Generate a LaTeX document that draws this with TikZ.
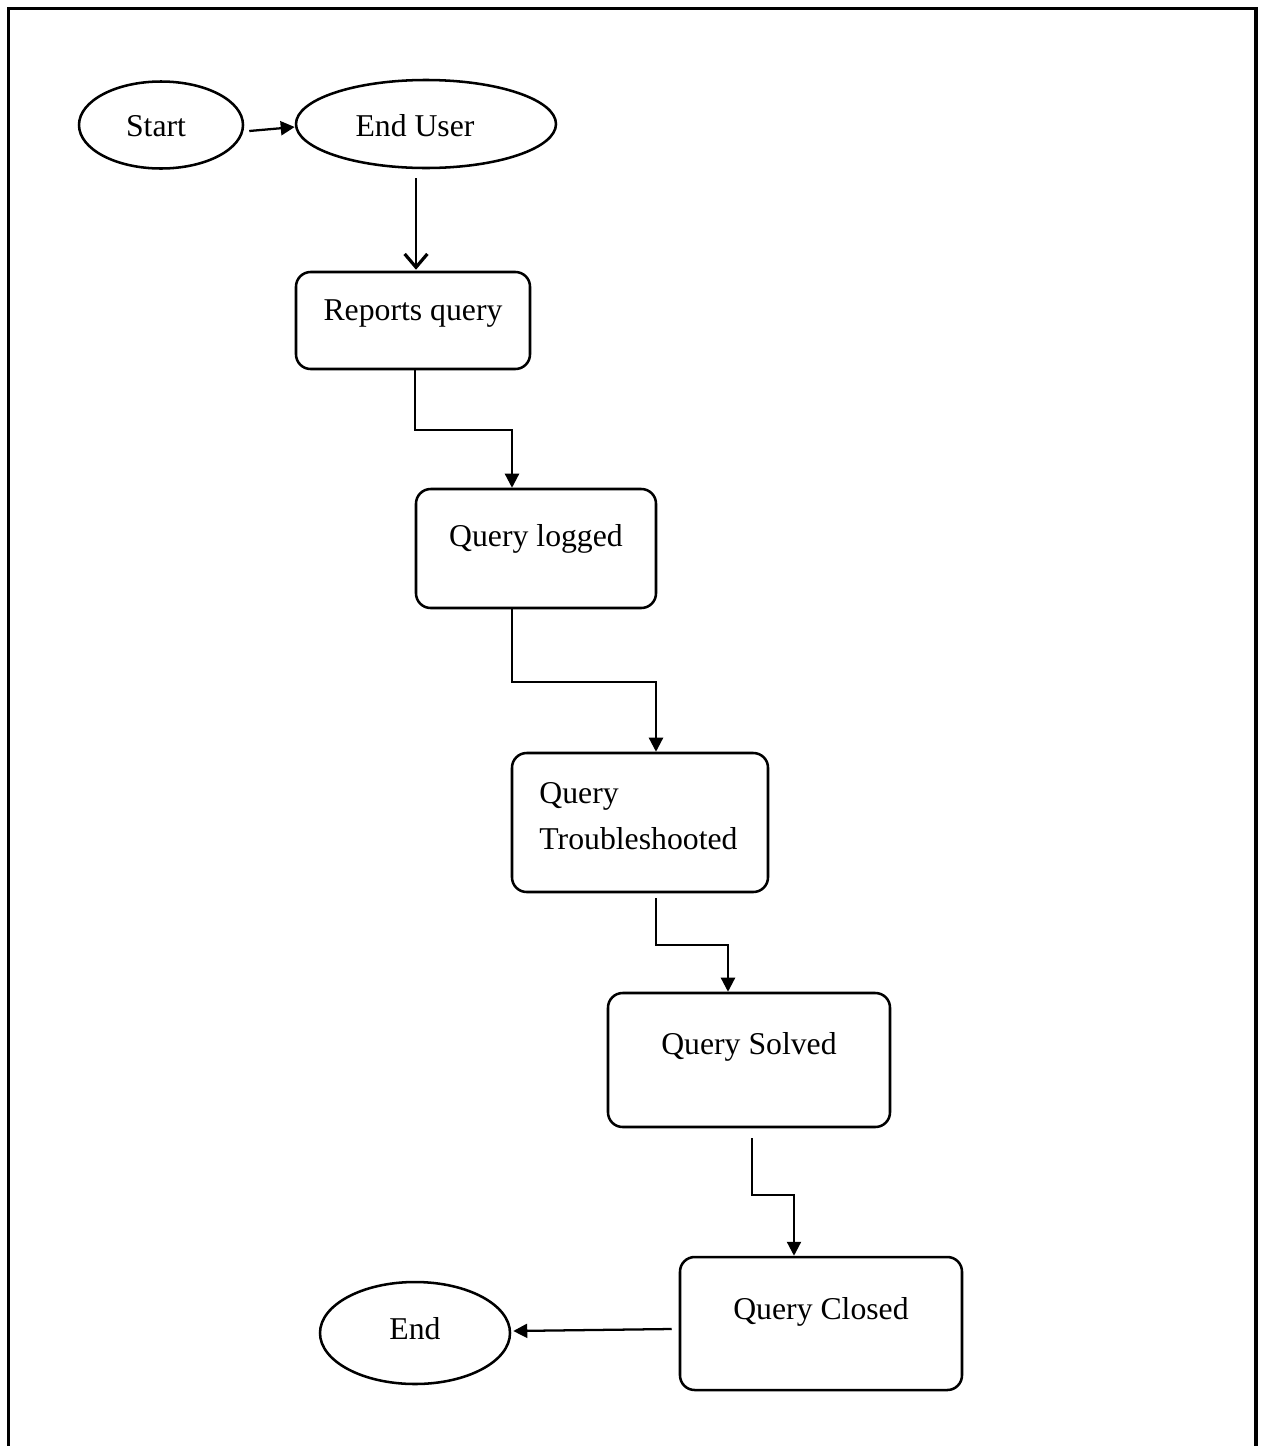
\documentclass[tikz,border=0pt]{standalone}
\usepackage{fontspec}
\setmainfont{Liberation Serif}
\usetikzlibrary{shapes.geometric,arrows.meta}
\tikzset{
  oval/.style={draw, ellipse, line width=1.9pt, inner sep=0pt},
  procbox/.style={draw, rectangle, rounded corners=11pt, line width=1.9pt, inner sep=0pt},
  lbl/.style={font=\fontsize{23.8}{34.5}\selectfont},
  arr/.style={line width=1.7pt, -{Triangle[length=10.5pt,width=10.5pt]}},
  openarr/.style={line width=1.7pt, -{Straight Barb[length=10pt,width=17pt,line width=2.4pt]}},
  frameline/.style={line width=2.3pt}
}
\begin{document}
\begin{tikzpicture}[x=0.75pt,y=-0.75pt]
\useasboundingbox (0,0) rectangle (1261,1446);
\draw[frameline] (8.5,1450) -- (8.5,8.5) -- (1256,8.5) -- (1256,1450);

\node[oval, minimum width=123pt, minimum height=65.25pt,
  label={[lbl, xshift=-3.75pt, yshift=-1pt]center:Start}] (st) at (161,125) {};
\node[oval, minimum width=195pt, minimum height=66pt,
  label={[lbl, xshift=-8.25pt, yshift=-1pt]center:End User}] (eu) at (426,124) {};
\node[procbox, minimum width=175.5pt, minimum height=72.75pt,
  label={[lbl, yshift=5pt]center:Reports query}] (rq) at (413,320.5) {};
\node[procbox, minimum width=180pt, minimum height=89.25pt,
  label={[lbl, yshift=7pt]center:Query logged}] (ql) at (536,548.5) {};
\node[procbox, minimum width=192pt, minimum height=104.25pt,
  label={[lbl, align=left, anchor=west, yshift=4.5pt, xshift=18pt]west:Query\\Troubleshooted}] (qt) at (640,822.5) {};
\node[procbox, minimum width=211.5pt, minimum height=100.5pt,
  label={[lbl, yshift=9.5pt]center:Query Solved}] (qs) at (749,1060) {};
\node[procbox, minimum width=211.5pt, minimum height=99.75pt,
  label={[lbl, yshift=8.5pt]center:Query Closed}] (qc) at (821,1323.5) {};
\node[oval, minimum width=142.5pt, minimum height=76.5pt,
  label={[lbl, yshift=3pt]center:End}] (en) at (415,1333) {};

\draw[arr] ([shift={(5,6)}]st.east) -- ([shift={(0,3)}]eu.west);
\draw[openarr] ([shift={(-10,9)}]eu.south) -- ([shift={(3,-1)}]rq.north);
\draw[arr] ([shift={(2,0)}]rq.south) -- ++(0,60) -| ([shift={(-24,0)}]ql.north);
\draw[arr] ([shift={(-24,0)}]ql.south) -- ++(0,73) -| ([shift={(16,0)}]qt.north);
\draw[arr] ([shift={(16,5)}]qt.south) -- ++(0,47) -| ([shift={(-21,0)}]qs.north);
\draw[arr] ([shift={(3,10)}]qs.south) -- ++(0,57) -| ([shift={(-27,0)}]qc.north);
\draw[arr] ([shift={(-7,5.5)}]qc.west) -- ([shift={(2,-2)}]en.east);
\end{tikzpicture}
\end{document}
